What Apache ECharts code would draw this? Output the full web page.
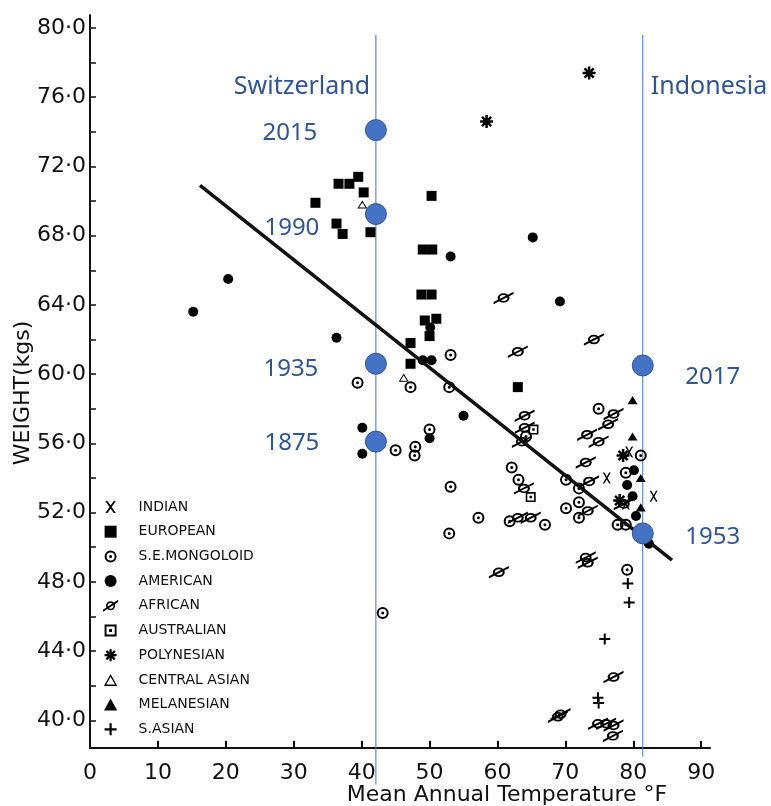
<!DOCTYPE html>
<html><head><meta charset="utf-8">
<script src="https://cdn.jsdelivr.net/npm/echarts@6/dist/echarts.min.js"></script>
<style>html,body{margin:0;padding:0;background:#fff}#c{width:771px;height:806px}</style>
</head><body><div id="c"></div>
<script>
// ---------- DATA ----------
const categories = ['INDIAN','EUROPEAN','S.E.MONGOLOID','AMERICAN','AFRICAN','AUSTRALIAN','POLYNESIAN','CENTRAL ASIAN','MELANESIAN','S.ASIAN'];
const indian = [[76.1,54.0],[83.0,52.95],[79.4,55.5],[78.9,52.5]];
const european = [[33.2,69.9],[36.6,71.0],[38.2,71.0],[39.5,71.4],[40.3,70.5],[36.3,68.7],[37.2,68.1],[41.3,68.2],[50.3,70.3],[49.0,67.2],[50.4,67.2],[48.8,64.6],[50.3,64.6],[49.3,63.1],[51.0,63.2],[50.0,62.2],[47.2,61.8],[47.2,60.6],[63.0,59.25]];
const seMongoloid = [[39.4,59.5],[47.2,59.25],[52.9,59.25],[53.1,61.1],[50.0,56.8],[45.0,55.6],[47.9,55.8],[47.8,55.3],[53.1,53.5],[52.9,50.8],[43.1,46.2],[62.1,54.6],[63.1,53.9],[57.2,51.7],[61.8,51.5],[67.0,51.3],[70.1,53.9],[72.0,53.4],[72.0,52.6],[70.1,52.25],[72.0,51.7],[77.7,51.3],[78.9,51.3],[78.9,54.3],[81.1,55.3],[74.9,58.0],[79.1,48.7],[64.2,56.4]];
const american = [[15.2,63.6],[20.35,65.5],[53.1,66.8],[36.3,62.1],[50.1,62.7],[49.0,60.8],[50.3,60.8],[69.2,64.2],[65.2,67.9],[55.0,57.6],[40.1,56.9],[40.1,55.4],[50.0,56.3],[80.1,54.45],[79.1,53.6],[79.9,52.95],[80.4,51.8],[82.3,50.2]];
const african = [[60.9,64.4],[74.2,62.0],[63.0,61.3],[64.0,57.6],[64.0,56.9],[63.6,56.1],[77.1,57.7],[76.3,57.1],[73.2,56.5],[74.9,56.1],[73.0,54.9],[73.5,53.8],[63.9,53.4],[73.3,52.1],[63.0,51.7],[64.9,51.7],[60.2,48.55],[73.0,49.4],[73.3,49.1],[78.6,52.5],[77.1,42.5],[69.3,40.35],[68.9,40.2],[74.8,39.8],[76.0,39.8],[77.1,39.7],[77.0,39.1]];
const australian = [[65.3,56.8],[64.9,52.9]];
const polynesian = [[73.5,77.4],[58.4,74.6],[78.5,55.3],[78.0,52.7]];
const centralAsian = [[40.1,69.8],[46.2,59.8]];
const melanesian = [[79.9,58.5],[79.9,56.4],[81.1,54.0],[81.1,52.3]];
const sAsian = [[79.2,47.9],[79.4,46.8],[75.8,44.7],[74.8,41.3],[74.9,41.0]];

const regression = [[16.2,70.9],[85.7,49.25]];
const switzerlandLine = [[42.1,79.6],[42.1,36.3]];
const indonesiaLine = [[81.4,79.6],[81.4,37.9]];
const switzerlandYears = [[42.1,74.1,'2015'],[42.1,69.25,'1990'],[42.1,60.6,'1935'],[42.1,56.1,'1875']];
const indonesiaYears = [[81.4,60.5,'2017'],[81.4,50.8,'1953']];
const yTickValues = [40,42,44,46,48,50,52,54,56,58,60,62,64,66,68,70,72,74,76,78,80];
const yLabelValues = [40,44,48,52,56,60,64,68,72,76,80];
const xTickValues = [0,10,20,30,40,50,60,70,80,90];

// ---------- SYMBOLS ----------
function circ(r, cw){ const s = cw ? 1 : 0; return `M0,${-r}A${r},${r} 0 1,${s} 0,${r}A${r},${r} 0 1,${s} 0,${-r}Z`; }
function bar(angDeg, L, t){
  const a = angDeg*Math.PI/180, dx=Math.cos(a), dy=Math.sin(a), nx=-dy, ny=dx;
  const p = [[-L*dx - t*nx, -L*dy - t*ny],[L*dx - t*nx, L*dy - t*ny],[L*dx + t*nx, L*dy + t*ny],[-L*dx + t*nx, -L*dy + t*ny]];
  return 'M' + p.map(q => q[0].toFixed(2)+','+q[1].toFixed(2)).join('L') + 'Z';
}
const SYM = {
  x: 'path://M-4.4,-5L-2.6,-5L4.4,5L2.6,5Z M2.6,-5L4.4,-5L-2.6,5L-4.4,5Z',
  square: 'path://M-5,-5L5,-5L5,5L-5,5Z',
  dotCircle: 'path://' + circ(6,1) + ' ' + circ(4.0,0) + ' ' + circ(1.5,1),
  disc: 'path://' + circ(5,1),
  slashCircle: 'path://' + circ(6,1) + ' ' + circ(3.8,0) + ' M-10,5.1L10,-7.9L10,-5.1L-10,7.9Z',
  dotSquare: 'path://M-5,-5L5,-5L5,5L-5,5Z M-3.4,-3.4L-3.4,3.4L3.4,3.4L3.4,-3.4Z M-1.2,-1.2L1.2,-1.2L1.2,1.2L-1.2,1.2Z',
  star: 'path://' + [0,45,90,135].map(a => bar(a,6.5,1.25)).join(' '),
  openTri: 'path://M0,-5L5,4L-5,4Z M0,-2.8L-3.3,2.9L3.3,2.9Z',
  tri: 'path://M0,-5L5,4L-5,4Z',
  plus: 'path://M-5.5,-1L5.5,-1L5.5,1L-5.5,1Z M-1,-5.5L1,-5.5L1,5.5L-1,5.5Z'
};

function mk(name, data, symbol, size){
  return { type:'scatter', name, data, symbol, symbolSize:size, symbolKeepAspect:true,
    itemStyle:{color:'#000', opacity:1}, z:4, silent:true, emphasis:{disabled:true} };
}

const yearOffsets = {'2015':[-86,3],'1990':[-84,14],'1935':[-85,5],'1875':[-84,2],'2017':[70,12],'1953':[70,4]};
function yearPoints(arr){
  return arr.map(d => ({ value:[d[0], d[1]], name:d[2], label:{ offset: yearOffsets[d[2]] } }));
}
const blueText = '#2F5597';
const tickFont = {fontFamily:'DejaVu Sans', fontSize:22, color:'#111'};

const chart = echarts.init(document.getElementById('c'), null, {renderer:'canvas'});
chart.setOption({
  animation:false,
  backgroundColor:'#fff',
  grid:{left:90, right:61, top:15, bottom:58, containLabel:false},
  xAxis:{ type:'value', min:0, max:91.3,
    axisLine:{show:true, onZero:false, lineStyle:{color:'#111', width:2}},
    axisTick:{show:true, inside:true, length:7, lineStyle:{color:'#111', width:2}, customValues:xTickValues},
    axisLabel:{ customValues:xTickValues, margin:14, ...tickFont, formatter: v => String(v) },
    splitLine:{show:false} },
  yAxis:{ type:'value', min:38.4, max:80.75,
    axisLine:{show:true, onZero:false, lineStyle:{color:'#111', width:2}},
    axisTick:{show:true, inside:true, length:6, lineStyle:{color:'#111', width:1.5}, customValues:yTickValues},
    axisLabel:{ customValues:yLabelValues, margin:4, ...tickFont, formatter: v => v.toFixed(0) + '·0' },
    splitLine:{show:false} },
  legend:{ data:categories, orient:'vertical', left:98, top:495, itemWidth:46, itemHeight:12, itemGap:10.7,
    selectedMode:false, textStyle:{fontFamily:'DejaVu Sans', fontSize:14, color:'#111'} },
  graphic:[
    {type:'text', x:302, y:87, style:{text:'Switzerland', fill:blueText, font:'25px "Noto Sans"', align:'center', verticalAlign:'middle'}},
    {type:'text', x:709, y:87, style:{text:'Indonesia', fill:blueText, font:'25px "Noto Sans"', align:'center', verticalAlign:'middle'}},
    {type:'text', x:23, y:393, rotation:Math.PI/2, style:{text:'WEIGHT(kgs)', fill:'#111', font:'22px "DejaVu Sans"', align:'center', verticalAlign:'middle'}},
    {type:'text', x:507, y:795, style:{text:'Mean Annual Temperature °F', fill:'#111', font:'22px "DejaVu Sans"', align:'center', verticalAlign:'middle'}}
  ],
  series:[
    { type:'line', name:'Switzerland', data:switzerlandLine, clip:false, symbol:'none', silent:true, z:1,
      lineStyle:{color:'#4472C4', width:1} },
    { type:'line', name:'Indonesia', data:indonesiaLine, clip:false, symbol:'none', silent:true, z:1,
      lineStyle:{color:'#4472C4', width:1} },
    mk('INDIAN', indian, SYM.x, [9,11]),
    mk('EUROPEAN', european, SYM.square, 10),
    mk('S.E.MONGOLOID', seMongoloid, SYM.dotCircle, 12),
    mk('AMERICAN', american, SYM.disc, 10),
    mk('AFRICAN', african, SYM.slashCircle, [20,15.8]),
    mk('AUSTRALIAN', australian, SYM.dotSquare, 10),
    mk('POLYNESIAN', polynesian, SYM.star, 13),
    mk('CENTRAL ASIAN', centralAsian, SYM.openTri, [10,9]),
    mk('MELANESIAN', melanesian, SYM.tri, [10,9]),
    mk('S.ASIAN', sAsian, SYM.plus, 11),
    { type:'line', name:'trend', data:regression, clip:false, symbol:'none', silent:true, z:5,
      lineStyle:{color:'#111', width:3.5} },
    { type:'scatter', name:'years', data: yearPoints(switzerlandYears).concat(yearPoints(indonesiaYears)),
      symbol:'circle', symbolSize:21, z:6, silent:true,
      itemStyle:{color:'#4472C4', borderColor:'#2F528F', borderWidth:1, opacity:1},
      label:{show:true, position:'inside', formatter: p => p.name, color:blueText, fontFamily:'Noto Sans', fontSize:24} }
  ]
});
</script></body></html>
